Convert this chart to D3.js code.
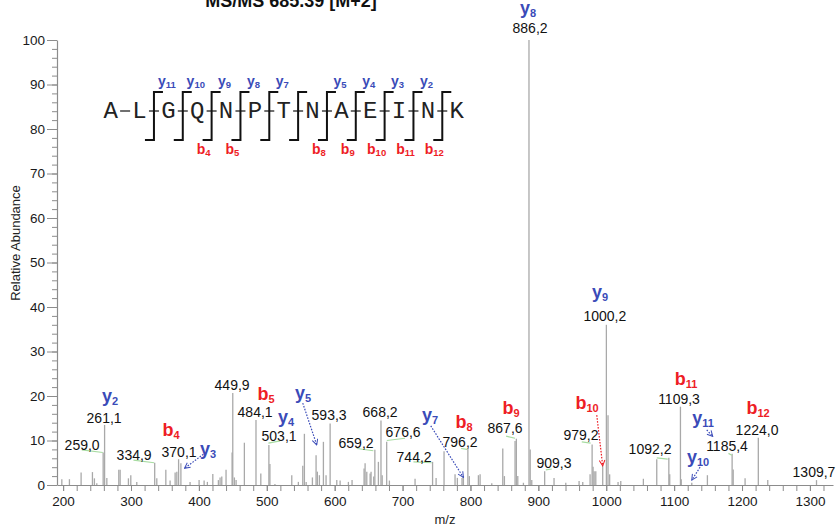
<!DOCTYPE html>
<html><head><meta charset="utf-8">
<script src="https://cdn.jsdelivr.net/npm/d3@7"></script>
<style>body{margin:0;background:#fff;} svg{display:block;font-family:"Liberation Sans",Arial,sans-serif;}</style>
</head><body><svg id="c" width="839" height="531"></svg>
<script>
// ---------- data ----------
const peakMz = [198.1,209.3,226.5,243.2,246.1,249.6,259.0,261.1,264.4,282.0,284.0,296.2,299.7,308.5,334.9,338.0,351.3,357.6,365.0,367.5,370.1,373.5,387.0,400.3,407.7,412.5,420.5,428.7,431.2,433.7,440.0,448.9,449.9,452.3,454.8,467.0,484.1,491.2,503.1,504.6,512.0,536.8,546.5,553.0,555.4,558.0,567.2,572.6,574.5,577.5,583.4,587.3,593.3,603.1,608.0,620.2,625.6,643.3,644.8,647.3,652.2,653.6,657.5,659.2,664.4,668.2,670.0,676.6,680.6,718.4,744.2,749.4,761.1,777.3,780.7,787.6,789.6,796.2,798.4,811.7,814.2,831.4,847.6,850.0,865.7,867.6,869.7,878.0,886.2,888.0,890.3,909.3,923.1,940.4,960.0,965.4,976.2,979.2,980.6,982.2,984.6,994.8,1000.2,1002.6,1005.0,1017.4,1021.4,1054.7,1074.4,1092.2,1093.5,1109.3,1110.5,1126.0,1149.0,1185.4,1187.0,1204.5,1224.0,1237.9,1309.7];
const peakInt = [1.3,1.3,2.8,2.9,1.5,0.4,7.3,13.5,1.6,3.4,3.4,1.5,2.2,0.7,5.0,1.5,3.4,1.0,2.8,3.0,5.8,4.9,0.7,1.1,1.0,0.7,2.5,1.1,1.7,1.9,3.4,7.3,20.7,1.7,1.1,9.5,14.6,2.6,9.0,4.7,0.2,2.2,0.7,4.3,11.5,0.7,1.7,6.7,3.0,2.2,9.7,2.2,13.8,1.1,1.0,0.7,1.1,3.7,4.9,3.0,2.6,3.0,1.9,7.9,5.2,14.5,2.2,9.7,1.0,1.4,5.2,1.6,7.6,2.4,1.6,1.6,2.0,8.1,2.0,2.2,2.4,0.4,8.2,2.0,9.9,10.4,2.0,0.5,100,8.0,1.1,3.1,1.6,0.5,0.9,0.7,2.4,9.1,4.1,3.1,3.1,4.4,36.0,15.7,2.4,0.7,0.9,1.4,5.8,6.1,2.4,17.6,1.3,0.5,2.2,7.0,3.5,1.5,10.6,1.1,1.1];

const xMajorTicks = [200,300,400,500,600,700,800,900,1000,1100,1200,1300];
const yMajorTicks = [0,10,20,30,40,50,60,70,80,90,100];

const residues = ["A","L","G","Q","N","P","T","N","A","E","I","N","K"];
const yIonsSeq = [11,10,9,8,7,5,4,3,2];
const bIonsSeq = [4,5,8,9,10,11,12];

// value labels (text, m/z, abundance of baseline)
const valueLabels = [
  ["886,2",887.8,101.6],["1000,2",998,36.9],["261,1",260.4,13.9],["259,0",228,7.9],
  ["334,9",304.6,5.6],["370,1",370.8,6.3],["449,9",448.9,21.3],["484,1",482.8,15.3],
  ["503,1",518.1,9.9],["593,3",591.8,14.6],["668,2",666.9,15.3],["659,2",631.5,8.3],
  ["676,6",700.8,10.8],["744,2",717,5.2],["796,2",784.7,8.5],["867,6",851,11.7],
  ["909,3",923.1,3.8],["979,2",962.9,10.1],["1092,2",1064.5,7.0],["1109,3",1107.2,18.2],
  ["1185,4",1177.9,7.6],["1224,0",1222.1,11.2],["1309,7",1306,1.8]
];
// ion labels (type, index, m/z, abundance of baseline)
const ionLabels = [
  ["y","8",884.9,105.8],["y","9",990.9,42.0],["y","2",269.2,18.7],["b","4",359,11.0],
  ["y","3",413.6,6.7],["b","5",499,19.1],["y","4",528.4,13.9],["y","5",553.5,19.3],
  ["y","7",740.5,14.4],["b","8",790.6,12.8],["b","9",859.8,16.0],["b","10",971.7,17.1],
  ["b","11",1117.5,22.4],["y","11",1142.6,13.7],["y","10",1135.2,4.9],["b","12",1223.6,16.0]
];
// green leader lines [mz1, ab1, mz2, ab2]
const leaders = [
  [227.5,7.9,258.5,7.3],[303.6,5.6,334,5.0],[502.4,9.4,519.6,9.9],[632.6,8.2,657,7.7],
  [676.8,10.0,703.7,10.5],[716,5.2,743,5.0],[786.2,8.2,795,8.0],[852.5,11.0,865.7,10.5],
  [911,3.4,919.8,3.6],[964,9.7,977,9.4],[1074.4,6.1,1090.6,5.8],[1180,7.1,1185,6.7]
];
// dotted arrows [type, mz1, ab1, mz2, ab2]
const arrows = [
  ["y",406.6,6.9,378.7,3.75],["y",553,18.4,573.6,9.0],["y",741.5,13.3,789.6,1.7],
  ["b",986,15.7,994.8,4.3],["y",1148,12.4,1156.9,10.9],["y",1138.2,4.0,1125.9,1.1]
];

// ---------- drawing ----------
const BLUE = "#3a4bb8", RED = "#ee1d25", GREEN = "#a8dca2", PEAK = "#a9a9a9", AX = "#8c8c8c";
const svg = d3.select("#c");
const x = d3.scaleLinear().domain([191, 1334]).range([57, 833]);
const y = d3.scaleLinear().domain([0, 100]).range([485, 40]);

// title (cut at top edge as in the reference)
svg.append("text").attr("x", 291).attr("y", 7).attr("text-anchor","middle")
  .attr("font-weight","bold").attr("font-size",18).attr("fill","#111").text("MS/MS 685.39 [M+2]");

// axes
const gx = svg.append("g").attr("transform","translate(0,485)");
gx.call(d3.axisBottom(x).tickValues(d3.range(200,1330,20)).tickSize(6).tickSizeOuter(0).tickFormat(""));
const gxl = svg.append("g").attr("transform","translate(0,485)")
  .call(d3.axisBottom(x).tickValues(xMajorTicks).tickSize(6).tickPadding(5).tickSizeOuter(0).tickFormat(d3.format("d")));
gxl.select(".domain").remove();
const gy = svg.append("g").attr("transform","translate(57,0)")
  .call(d3.axisLeft(y).tickValues(d3.range(0,101,2)).tickSize(5).tickSizeOuter(0).tickFormat(""));
const gyl = svg.append("g").attr("transform","translate(57,0)")
  .call(d3.axisLeft(y).tickValues(yMajorTicks).tickSize(10).tickPadding(2).tickSizeOuter(0).tickFormat(d3.format("d")));
gyl.select(".domain").remove();
svg.selectAll(".domain").attr("stroke",AX).attr("stroke-width",1.2);
svg.selectAll(".tick line").attr("stroke",AX);
svg.selectAll(".tick text").attr("font-size",13.5).attr("fill","#1a1a1a")
  .attr("font-family","Liberation Sans, Arial, sans-serif");

svg.append("text").attr("transform","translate(20,243) rotate(-90)").attr("text-anchor","middle")
  .attr("font-size",13).attr("fill","#222").text("Relative Abundance");
svg.append("text").attr("x",445).attr("y",524).attr("text-anchor","middle")
  .attr("font-size",13).attr("fill","#222").text("m/z");

// peaks
const peaks = peakMz.map((m,i)=>({m, v:peakInt[i]}));
svg.append("g").selectAll("line").data(peaks).join("line")
  .attr("x1",d=>x(d.m)).attr("x2",d=>x(d.m))
  .attr("y1",y(0)).attr("y2",d=>y(d.v))
  .attr("stroke",PEAK).attr("stroke-width",1.3);

// leaders
svg.append("g").selectAll("line").data(leaders).join("line")
  .attr("x1",d=>x(d[0])).attr("y1",d=>y(d[1])).attr("x2",d=>x(d[2])).attr("y2",d=>y(d[3]))
  .attr("stroke",GREEN).attr("stroke-width",1.2);

// value labels
svg.append("g").selectAll("text").data(valueLabels).join("text")
  .attr("x",d=>x(d[1])).attr("y",d=>y(d[2])).attr("text-anchor","middle")
  .attr("font-size",14).attr("fill","#111").text(d=>d[0]);

function ionText(g, ion, n, px, py, size, sub, color){
  const t = g.append("text").attr("x",px).attr("y",py).attr("text-anchor","middle")
    .attr("fill",color).attr("font-weight","bold").attr("font-size",size);
  t.append("tspan").text(ion);
  t.append("tspan").attr("font-size",sub).attr("dy",size*0.16).text(n);
}
const gi = svg.append("g");
ionLabels.forEach(d => ionText(gi, d[0], d[1], x(d[2]), y(d[3]), 18, 11, d[0]==="y"?BLUE:RED));

// arrows
const defs = svg.append("defs");
[["y",BLUE],["b",RED]].forEach(([k,c])=>{
  defs.append("marker").attr("id","ar"+k).attr("viewBox","0 0 10 10").attr("refX",9).attr("refY",5)
    .attr("markerWidth",7).attr("markerHeight",7).attr("orient","auto").attr("markerUnits","userSpaceOnUse")
    .append("path").attr("d","M1,1 L9,5 L1,9").attr("fill","none").attr("stroke",c).attr("stroke-width",1.4);
});
svg.append("g").selectAll("line").data(arrows).join("line")
  .attr("x1",d=>x(d[1])).attr("y1",d=>y(d[2])).attr("x2",d=>x(d[3])).attr("y2",d=>y(d[4]))
  .attr("stroke",d=>d[0]==="y"?BLUE:RED).attr("stroke-width",1.2).attr("stroke-dasharray","1.6,1.4")
  .attr("marker-end",d=>"url(#ar"+d[0]+")");

// peptide fragmentation diagram
const rx = d3.scalePoint().domain(d3.range(residues.length)).range([110.7, 456.7]);
const pep = svg.append("g");
const baseY = 118, midY = 111, topY = 92, botY = 140;
pep.selectAll("text.res").data(residues).join("text").attr("class","res")
  .attr("x",(d,i)=>rx(i)).attr("y",baseY).attr("text-anchor","middle")
  .attr("font-family","Liberation Mono, Courier New, monospace").attr("font-size",24).attr("fill","#222").text(d=>d);
// dashes
pep.selectAll("line.dash").data(d3.range(1,residues.length)).join("line").attr("class","dash")
  .attr("x1",i=>(rx(i-1)+rx(i))/2-5).attr("x2",i=>(rx(i-1)+rx(i))/2+5)
  .attr("y1",midY).attr("y2",midY).attr("stroke","#222").attr("stroke-width",1.3);
// brackets for cleavages 2..12
const cuts = d3.range(2, residues.length);
const mid = k => (rx(k-1)+rx(k))/2;
pep.selectAll("path.br").data(cuts).join("path").attr("class","br")
  .attr("d",k=>`M${mid(k)+9},${topY}H${mid(k)}V${botY}H${mid(k)-9}`)
  .attr("fill","none").attr("stroke","#111").attr("stroke-width",2);
yIonsSeq.forEach(n => ionText(pep, "y", String(n), mid(residues.length-n)+13, 86, 14, 9.5, BLUE));
bIonsSeq.forEach(n => ionText(pep, "b", String(n), mid(n)-8, 154, 14, 9.5, RED));
</script></body></html>
